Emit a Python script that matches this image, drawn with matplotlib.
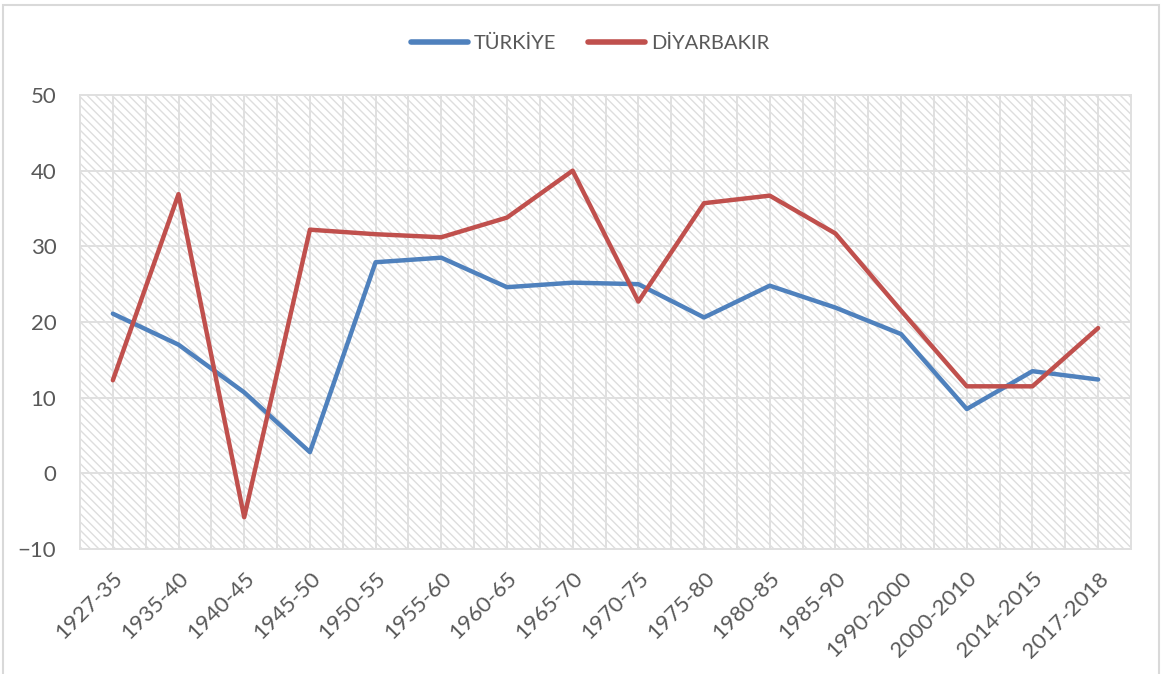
import matplotlib.pyplot as plt
import matplotlib.patches as mpatches
import numpy as np

# periods and growth values
periods = ['1927-35', '1935-40', '1940-45', '1945-50', '1950-55', '1955-60',
           '1960-65', '1965-70', '1970-75', '1975-80', '1980-85', '1985-90',
           '1990-2000', '2000-2010', '2014-2015', '2017-2018']
turkiye = [21.1, 17.0, 10.7, 2.8, 27.9, 28.5, 24.6, 25.2, 25.0, 20.6,
           24.8, 21.9, 18.4, 8.5, 13.5, 12.4]
diyarbakir = [12.3, 36.9, -5.8, 32.2, 31.6, 31.2, 33.8, 40.0, 22.7, 35.7,
              36.7, 31.7, 21.5, 11.5, 11.5, 19.2]

plt.rcParams['font.family'] = ['Lato', 'DejaVu Sans']
txt = '#595959'
grid = '#e0e0e0'

fig = plt.figure(figsize=(11.62, 6.74), dpi=100)
ax = fig.add_axes([80/1162, 125/674, 1051/1162, 454/674])

# hatched plot area like the excel pattern fill
plt.rcParams['hatch.color'] = '#dedede'
plt.rcParams['hatch.linewidth'] = 0.9
ax.patch.set_facecolor('white')
ax.patch.set_hatch('\\\\\\\\')
ax.patch.set_edgecolor('#dedede')

x = np.arange(len(periods))
ax.plot(x, turkiye, color='#4F81BD', lw=3.2, solid_capstyle='round', label='TÜRKİYE', zorder=3)
ax.plot(x, diyarbakir, color='#C0504D', lw=3.2, solid_capstyle='round', label='DİYARBAKIR', zorder=3)

ax.set_xlim(-0.5, len(periods) - 0.5)
ax.set_ylim(-10, 50)
ax.set_yticks(range(-10, 51, 10))
ax.set_xticks(x)
ax.set_xticks(np.arange(-0.5, len(periods), 1.0), minor=True)
ax.set_xticklabels(periods, rotation=45, ha='right', va='top', rotation_mode='anchor')
ax.tick_params(axis='both', length=0, labelsize=16, labelcolor=txt, pad=14)
ax.tick_params(axis='x', which='minor', length=0)
ax.tick_params(axis='y', pad=17)

ax.grid(True, which='both', color=grid, lw=1.4, zorder=1)
ax.set_axisbelow(True)
for s in ax.spines.values():
    s.set_color(grid)
    s.set_linewidth(1.4)

leg = fig.legend(loc='center', bbox_to_anchor=(0.508, 1 - 43/674), ncol=2, frameon=False,
                 fontsize=14.5, handlelength=2.8, handletextpad=0.3, columnspacing=1.6)
for t in leg.get_texts():
    t.set_color(txt)
for h in leg.legend_handles:
    h.set_linewidth(4)

# outer chart border
fig.patches.append(mpatches.Rectangle((3/1162, -0.01), 1156/1162, 1 - 5/674 + 0.01,
                                      transform=fig.transFigure, fill=False,
                                      edgecolor='#d9d9d9', lw=1.5))

fig.savefig('out.png', dpi=100)
